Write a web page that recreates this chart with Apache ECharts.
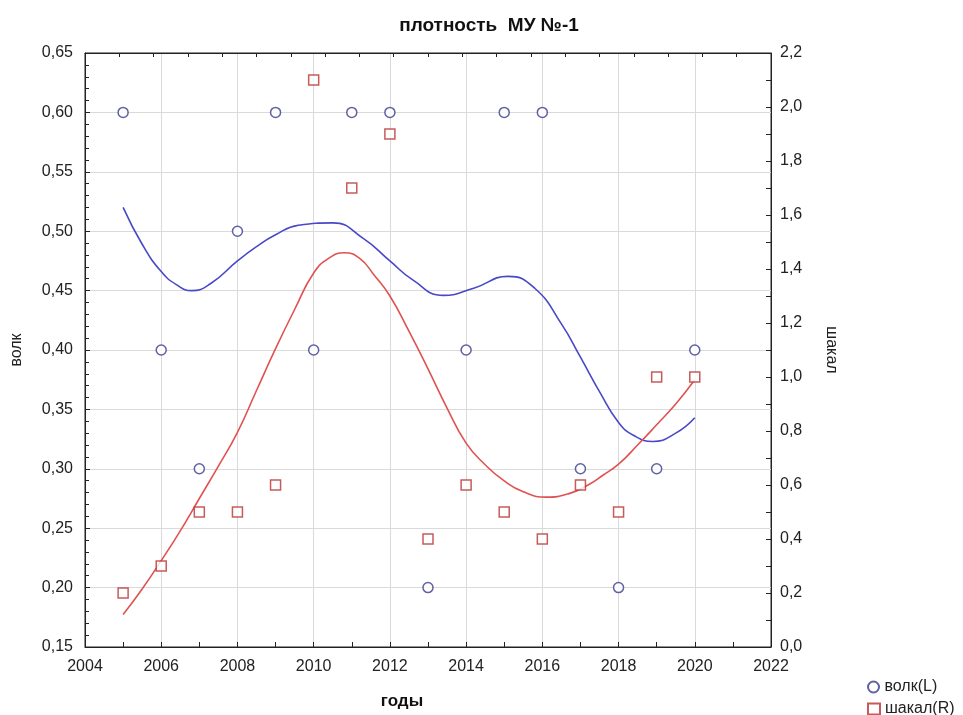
<!DOCTYPE html>
<html>
<head>
<meta charset="utf-8">
<script src="https://cdn.jsdelivr.net/npm/echarts@6/dist/echarts.min.js"></script>
<style>
  html, body { margin: 0; padding: 0; background: #fff; }
  #chart { width: 963px; height: 715px; }
</style>
</head>
<body>
<div id="chart"></div>
<script>
// наблюдения по годам
const years = [2005, 2006, 2007, 2008, 2009, 2010, 2011, 2012, 2013, 2014, 2015, 2016, 2017, 2018, 2019, 2020];
const wolf = [0.60, 0.40, 0.30, 0.50, 0.60, 0.40, 0.60, 0.60, 0.20, 0.40, 0.60, 0.60, 0.30, 0.20, 0.30, 0.40];
const jackal = [0.2, 0.3, 0.5, 0.5, 0.6, 2.1, 1.7, 1.9, 0.4, 0.6, 0.5, 0.4, 0.6, 0.5, 1.0, 1.0];

// сглаженные кривые (точки на экстремумах)
const wolfFitYears = [2005, 2005.5, 2006, 2006.4, 2006.8, 2007.3, 2008, 2008.5, 2009, 2009.6, 2010.5, 2011.3,
    2012, 2012.6, 2013.4, 2014.2, 2015.1, 2015.8, 2016.5, 2017, 2017.5, 2018, 2018.4, 2018.9, 2019.5, 2020];
const wolfFit = [0.520, 0.489, 0.466, 0.455, 0.450, 0.456, 0.475, 0.487, 0.497, 0.505, 0.507, 0.494,
    0.475, 0.459, 0.446, 0.452, 0.462, 0.452, 0.422, 0.394, 0.365, 0.339, 0.328, 0.323, 0.330, 0.343];
const jackalFitYears = [2005, 2005.5, 2006, 2006.5, 2007, 2007.5, 2008, 2008.5, 2009, 2009.5, 2010, 2010.4,
    2010.8, 2011.2, 2011.6, 2012, 2012.5, 2013, 2013.5, 2014, 2014.5, 2015, 2015.5, 2016.1,
    2016.7, 2017.2, 2017.6, 2018, 2018.5, 2019, 2019.5, 2020];
const jackalFit = [0.12, 0.215, 0.32, 0.43, 0.55, 0.67, 0.795, 0.95, 1.105, 1.25, 1.385, 1.44,
    1.46, 1.44, 1.375, 1.30, 1.17, 1.03, 0.885, 0.755, 0.675, 0.615, 0.575, 0.555,
    0.568, 0.60, 0.637, 0.677, 0.748, 0.823, 0.90, 0.99];

const pairs = (xs, ys) => xs.map((x, i) => [x, ys[i]]);
const comma = (d) => (v) => v.toFixed(d).replace('.', ',');

const font = 'Liberation Sans, Arial, sans-serif';
const blueLine = '#4848c8';
const blueMark = '#3a3a90';
const redLine = '#e05252';
const redMark = '#b83232';

const chart = echarts.init(document.getElementById('chart'));

const legendBase = {
    orient: 'vertical',
    left: 862,
    itemWidth: 12,
    itemHeight: 11,
    itemGap: 6,
    textStyle: { fontSize: 16, color: '#222', fontFamily: font }
};

const option = {
    backgroundColor: '#fff',
    animation: false,
    textStyle: { fontFamily: font },
    title: {
        text: 'плотность  МУ №-1',
        left: 484,
        textAlign: 'center',
        top: 11,
        textStyle: { fontSize: 19, fontWeight: 'bold', color: '#111', fontFamily: font }
    },
    grid: {
        left: 85, right: 192, top: 53, bottom: 63,
        show: true, borderColor: '#222', borderWidth: 1, backgroundColor: 'transparent'
    },
    legend: [
        Object.assign({}, legendBase, { top: 674, data: ['волк(L)'] }),
        Object.assign({}, legendBase, { top: 696, data: ['шакал(R)'] })
    ],
    xAxis: [{
        type: 'value',
        min: 2004, max: 2022, interval: 2,
        name: 'годы',
        nameLocation: 'middle',
        nameGap: 46,
        nameTextStyle: { fontSize: 17, fontWeight: 'bold', color: '#111', padding: [0, 52, 0, 0] },
        axisLine: { show: true, lineStyle: { color: '#222' } },
        axisTick: { inside: true, length: 5, lineStyle: { color: '#222' } },
        minorTick: { show: true, splitNumber: 2, length: 5, lineStyle: { color: '#222' } },
        axisLabel: { fontSize: 16, color: '#222', margin: 12, formatter: (v) => String(v) },
        splitLine: { show: true, lineStyle: { color: '#dadada' } }
    }, {
        type: 'value',
        position: 'top',
        min: 0, max: 20, interval: 1,
        axisLine: { show: true, lineStyle: { color: '#222' } },
        axisTick: { inside: true, length: 4, lineStyle: { color: '#222' } },
        axisLabel: { show: false },
        splitLine: { show: false }
    }],
    yAxis: [{
        type: 'value',
        min: 0.15, max: 0.65, interval: 0.05,
        name: 'волк',
        nameLocation: 'middle',
        nameGap: 60,
        nameTextStyle: { fontSize: 16, color: '#222' },
        axisLine: { show: true, lineStyle: { color: '#222' } },
        axisTick: { inside: true, length: 5, lineStyle: { color: '#222' } },
        minorTick: { show: true, splitNumber: 5, length: 4, lineStyle: { color: '#222' } },
        axisLabel: { fontSize: 16, color: '#222', margin: 12, formatter: comma(2) },
        splitLine: { show: true, lineStyle: { color: '#dadada' } }
    }, {
        type: 'value',
        position: 'right',
        min: 0, max: 2.2, interval: 0.2,
        name: 'шакал',
        nameLocation: 'middle',
        nameGap: 52,
        nameRotate: -90,
        nameTextStyle: { fontSize: 16, color: '#222' },
        axisLine: { show: true, lineStyle: { color: '#222' } },
        axisTick: { inside: true, length: 5, lineStyle: { color: '#222' } },
        minorTick: { show: true, splitNumber: 2, length: 5, lineStyle: { color: '#222' } },
        axisLabel: { fontSize: 16, color: '#222', margin: 9, formatter: comma(1) },
        splitLine: { show: false }
    }],
    series: [{
        name: 'волк fit',
        type: 'line',
        xAxisIndex: 0, yAxisIndex: 0,
        smooth: 0.5,
        symbol: 'none',
        lineStyle: { color: blueLine, width: 1.6 },
        data: pairs(wolfFitYears, wolfFit),
        z: 2
    }, {
        name: 'шакал fit',
        type: 'line',
        xAxisIndex: 0, yAxisIndex: 1,
        smooth: 0.5,
        symbol: 'none',
        lineStyle: { color: redLine, width: 1.6 },
        data: pairs(jackalFitYears, jackalFit),
        z: 2
    }, {
        name: 'волк(L)',
        type: 'scatter',
        xAxisIndex: 0, yAxisIndex: 0,
        symbol: 'circle',
        symbolSize: 10,
        itemStyle: { color: '#fff', borderColor: blueMark, borderWidth: 1.5 },
        data: pairs(years, wolf),
        z: 5
    }, {
        name: 'шакал(R)',
        type: 'scatter',
        xAxisIndex: 0, yAxisIndex: 1,
        symbol: 'rect',
        symbolSize: 10,
        itemStyle: { color: '#fff', borderColor: redMark, borderWidth: 1.5 },
        data: pairs(years, jackal),
        z: 5
    }]
};

chart.setOption(option);
</script>
</body>
</html>
